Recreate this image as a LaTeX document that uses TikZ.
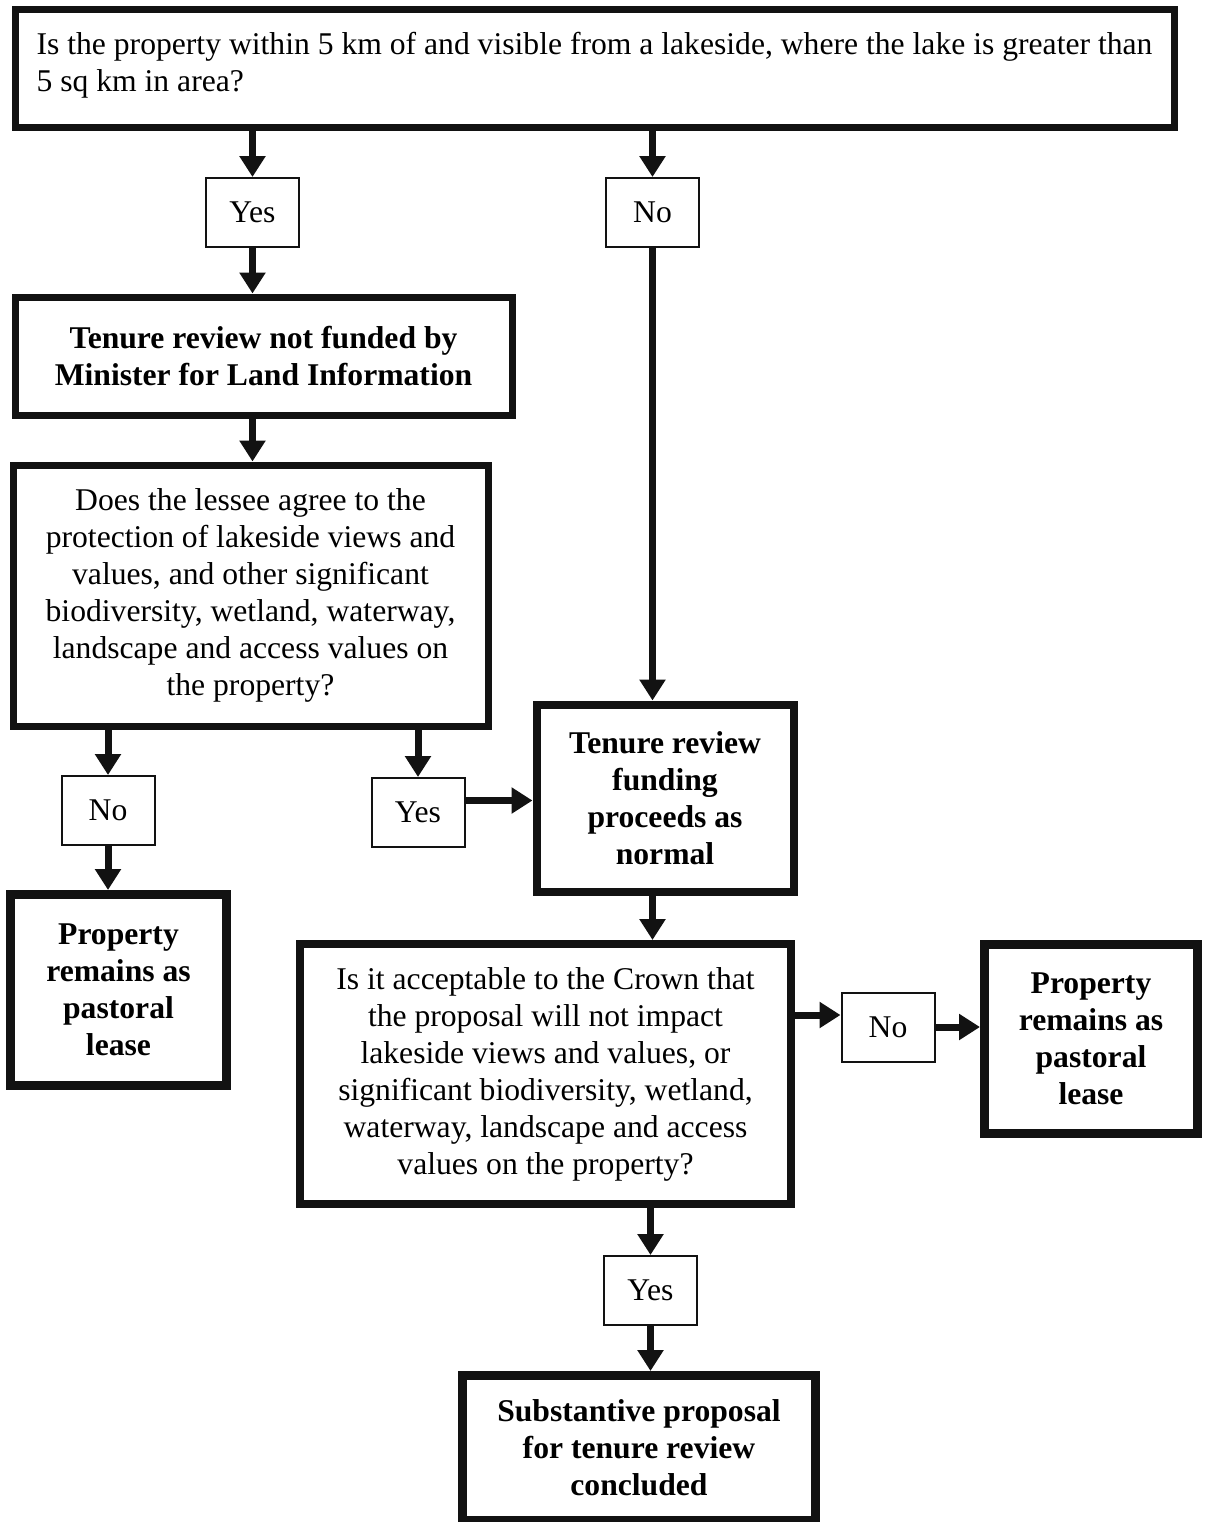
\documentclass[tikz,border=0pt]{standalone}
\usepackage{fontspec}
\setmainfont{Liberation Serif}
\usetikzlibrary{arrows.meta}
\usetikzlibrary{positioning}
\newlength{\pxu}
\setlength{\pxu}{0.025cm}

\begin{document}
\begin{tikzpicture}[x={0.025cm}, y={-0.025cm},
	boxtext/.style={font={\fontsize{22.5}{26.3}\selectfont}, text={BLACK}, align=center, inner sep={0pt}},
	questionbox/.style={boxtext, draw={ALMOST_BLACK}, line width={7\pxu}, fill={WHITE}},
	resultbox/.style={boxtext, draw={ALMOST_BLACK}, line width={9\pxu}, fill={WHITE}, font={\fontsize{22.5}{26.3}\selectfont\bfseries}},
	answerbox/.style={boxtext, draw={ALMOST_BLACK}, line width={2\pxu}, fill={WHITE}, minimum width={93\pxu}, minimum height={69\pxu}},
	flow/.style={draw={ALMOST_BLACK}, line width={7\pxu}, -{Triangle[width=17.8pt, length=14.9pt]}}]
				\definecolor{WHITE}{RGB}{255, 255, 255}
				\definecolor{ALMOST_BLACK}{RGB}{18, 18, 18}
				\definecolor{BLACK}{RGB}{0, 0, 0}
				\useasboundingbox[fill={WHITE}] (0, 0) rectangle (1205, 1522);

				% questions and outcomes
				\node[questionbox, align=left, minimum width={1159\pxu}, minimum height={118\pxu}] (lakeQuestion) at (594.5, 68)
					{Is the property within 5 km of and visible from a lakeside, where the lake is greater than\\5 sq km in area?\\[-17.7pt]};
				\node[resultbox, line width={7\pxu}, minimum width={497\pxu}, minimum height={118\pxu}] (notFunded) at (263.5, 356)
					{Tenure review not funded by\\Minister for Land Information};
				\node[questionbox, minimum width={475\pxu}, minimum height={261\pxu}] (lesseeQuestion) at (250.5, 595.5)
					{Does the lessee agree to the\\protection of lakeside views and\\values, and other significant\\biodiversity, wetland, waterway,\\landscape and access values on\\the property?};
				\node[resultbox, line width={8\pxu}, minimum width={257\pxu}, minimum height={187\pxu}] (proceeds) at (665, 798)
					{Tenure review\\funding\\proceeds as\\normal};
				\node[resultbox, minimum width={216\pxu}, minimum height={191\pxu}] (remainsLeft) at (118.5, 990)
					{Property\\remains as\\pastoral\\lease};
				\node[questionbox, line width={8\pxu}, minimum width={491\pxu}, minimum height={260\pxu}] (crownQuestion) at (545.5, 1074)
					{Is it acceptable to the Crown that\\the proposal will not impact\\lakeside views and values, or\\significant biodiversity, wetland,\\waterway, landscape and access\\values on the property?};
				\node[resultbox, minimum width={213\pxu}, minimum height={189\pxu}] (remainsRight) at (1091, 1039)
					{Property\\remains as\\pastoral\\lease};
				\node[resultbox, minimum width={353\pxu}, minimum height={145\pxu}] (concluded) at (639, 1448)
					{Substantive proposal\\for tenure review\\concluded};

				% answers
				\node[answerbox] (yesA) at (252.5, 212.5) {Yes};
				\node[answerbox] (noA) at (652.5, 212.5) {No};
				\node[answerbox] (noB) at (108, 810.5) {No};
				\node[answerbox] (yesB) at (418, 812.5) {Yes};
				\node[answerbox] (noC) at (888, 1027) {No};
				\node[answerbox] (yesC) at (650.5, 1290.5) {Yes};
				\coordinate (yesBout) at ([yshift={12\pxu}]yesB.east);
				\coordinate (noCin) at ([yshift={12\pxu}]noC.west);

				% connectors
				\draw[flow] (lakeQuestion.south -| yesA.north) -- (yesA.north);
				\draw[flow] (lakeQuestion.south -| noA.north) -- (noA.north);
				\draw[flow] (yesA.south) -- (yesA.south |- notFunded.north);
				\draw[flow] (notFunded.south -| yesA.south) -- (yesA.south |- lesseeQuestion.north);
				\draw[flow] (noA.south) -- (noA.south |- proceeds.north);
				\draw[flow] (lesseeQuestion.south -| noB.north) -- (noB.north);
				\draw[flow] (lesseeQuestion.south -| yesB.north) -- (yesB.north);
				\draw[flow] (noB.south) -- (noB.south |- remainsLeft.north);
				\draw[flow] (yesBout) -- (yesBout -| proceeds.west);
				\draw[flow] (proceeds.south -| noA.south) -- (noA.south |- crownQuestion.north);
				\draw[flow] (crownQuestion.east |- noCin) -- (noCin);
				\draw[flow] (noC.east) -- (noC.east -| remainsRight.west);
				\draw[flow] (crownQuestion.south -| yesC.north) -- (yesC.north);
				\draw[flow] (yesC.south) -- (yesC.south |- concluded.north);
\end{tikzpicture}
\end{document}
